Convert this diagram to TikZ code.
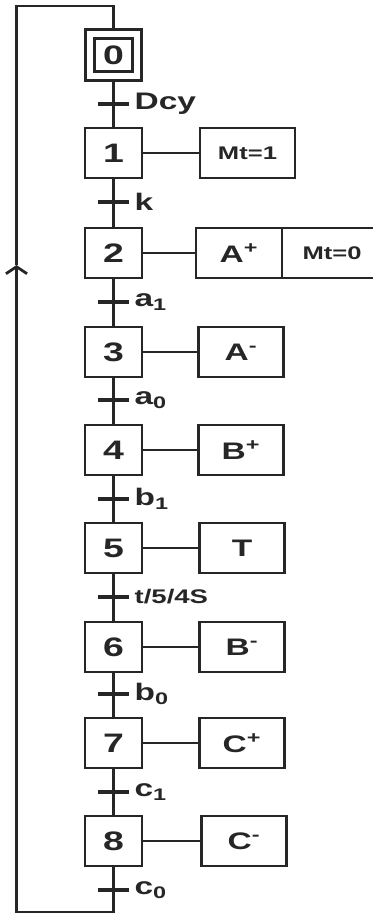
\documentclass[tikz,border=0pt]{standalone}
\usepackage{fontspec}
\setmainfont{Liberation Sans}[FakeStretch=1.4]
\usepackage{tikz}
\usetikzlibrary{arrows.meta,positioning}

\begin{document}
\begin{tikzpicture}[
  x=0.025cm, y=-0.025cm,
  color=black!85,
  line width=2pt,
  >={Straight Barb[length=5pt,width=15pt]},
  stepbox/.style={draw, minimum width=1.425cm, minimum height=1.25cm, inner sep=0pt, font=\fontsize{19}{22}\selectfont\bfseries},
  initstep/.style={stepbox, double, double distance=4.4pt, minimum width=1.19cm, minimum height=1.066cm, outer sep=4.2pt},
  actbox/.style={draw, minimum width=2.125cm, minimum height=1.25cm, inner sep=0pt, outer sep=0pt, font=\fontsize{17}{20}\selectfont\bfseries},
  smallbox/.style={actbox, font=\fontsize{13}{15}\selectfont\bfseries},
  transbar/.style={fill, minimum width=0.75cm, minimum height=2.2pt, inner sep=0pt, outer sep=0pt, label distance=6pt},
  cond/.style={font=\fontsize{17}{20}\selectfont\bfseries},
  smallcond/.style={font=\fontsize{14}{16}\selectfont\bfseries}
]

\useasboundingbox (0,0) rectangle (373,919);
\clip (0,0) rectangle (373,919);

% Etapes
\node[initstep] (s0) at (113.5,55) {0};
\node[stepbox] (s1) at (113.5,153) {1};
\node[stepbox] (s2) at (113.5,253) {2};
\node[stepbox] (s3) at (113.5,352) {3};
\node[stepbox] (s4) at (113.5,450) {4};
\node[stepbox] (s5) at (113.5,548) {5};
\node[stepbox] (s6) at (113.5,647) {6};
\node[stepbox] (s7) at (113.5,743) {7};
\node[stepbox] (s8) at (113.5,841) {8};

% Transitions et receptivites
\node[transbar, label={[cond]right:Dcy}] (t1) at (113.5,104) {};
\node[transbar, label={[cond]right:k}] (t2) at (113.5,202) {};
\node[transbar, label={[cond]right:a\textsubscript{1}}] (t3) at (113.5,302) {};
\node[transbar, label={[cond]right:a\textsubscript{0}}] (t4) at (113.5,400) {};
\node[transbar, label={[cond]right:b\textsubscript{1}}] (t5) at (113.5,499) {};
\node[transbar, label={[smallcond]right:t/5/4S}] (t6) at (113.5,597) {};
\node[transbar, label={[cond]right:b\textsubscript{0}}] (t7) at (113.5,694) {};
\node[transbar, label={[cond]right:c\textsubscript{1}}] (t8) at (113.5,792) {};
\node[transbar, label={[cond]right:c\textsubscript{0}}] (t9) at (113.5,890) {};

% Actions
\node[smallbox, minimum width=2.375cm] (a1) at (247.5,153) {Mt=1};
\node[actbox, minimum width=2.15cm] (a2) at (239,253) {A\textsuperscript{+}};
\node[smallbox, minimum width=2.5cm, right=0pt of a2] (m2) {Mt=0};
\node[actbox] (a3) at (241,352) {A\textsuperscript{-}};
\node[actbox] (a4) at (241,450) {B\textsuperscript{+}};
\node[actbox] (a5) at (242,548) {T};
\node[actbox] (a6) at (242,647) {B\textsuperscript{-}};
\node[actbox] (a7) at (242,743) {C\textsuperscript{+}};
\node[actbox] (a8) at (244,841) {C\textsuperscript{-}};

% Liaisons etapes - transitions
\draw (s0) -- (t1) -- (s1);
\draw (s1) -- (t2) -- (s2);
\draw (s2) -- (t3) -- (s3);
\draw (s3) -- (t4) -- (s4);
\draw (s4) -- (t5) -- (s5);
\draw (s5) -- (t6) -- (s6);
\draw (s6) -- (t7) -- (s7);
\draw (s7) -- (t8) -- (s8);

% Liaisons etapes - actions
\draw (s1) -- (a1);
\draw (s2) -- (a2);
\draw (s3) -- (a3);
\draw (s4) -- (a4);
\draw (s5) -- (a5);
\draw (s6) -- (a6);
\draw (s7) -- (a7);
\draw (s8) -- (a8);

% Retour vers l'etape initiale
\coordinate (loopbl) at (16.5,912);
\coordinate (looparr) at (16.5,265);
\coordinate (looptl) at (16.5,6);
\draw (s8) -- (t9);
\draw[->] (t9) -- (t9 |- loopbl) -- (loopbl) -- (looparr);
\draw (looparr) -- (looptl) -- (looptl -| s0) -- (s0);

\end{tikzpicture}
\end{document}
